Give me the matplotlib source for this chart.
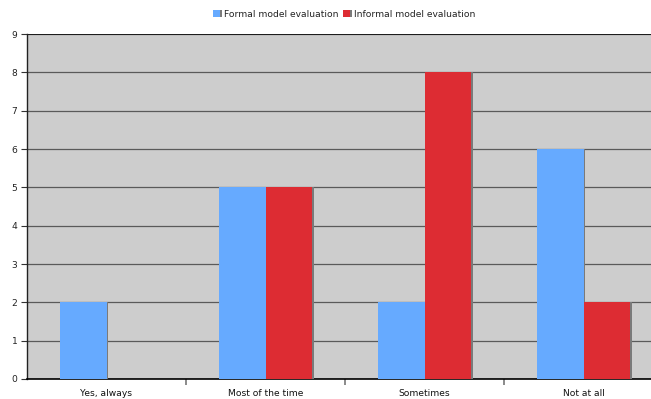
import matplotlib.pyplot as plt
import matplotlib.patheffects as pe
import numpy as np

categories = ['Yes, always', 'Most of the time', 'Sometimes', 'Not at all']
formal = [2, 5, 2, 6]
informal = [0, 5, 8, 2]
series_names = ['Formal model evaluation', 'Informal model evaluation']

plt.rcParams['font.family'] = 'DejaVu Sans'
plt.rcParams['font.size'] = 6.6

fig = plt.figure(figsize=(6.51, 3.99), dpi=100)
W, H = 651, 399
ax = fig.add_axes([27 / W, 1 - 379 / H, 636 / W, 345 / H])
ax.set_facecolor('#cdcdcd')

x = np.arange(len(categories))
bw = 0.292
shadow = [pe.SimplePatchShadow(offset=(1.4, 0), shadow_rgbFace='#7a7a7a', alpha=1), pe.Normal()]
b1 = ax.bar(x - bw / 2, formal, bw, color='#66aaff', zorder=3, label=series_names[0])
b2 = ax.bar(x + bw / 2, informal, bw, color='#dd2c33', zorder=3, label=series_names[1])
for b in list(b1) + list(b2):
    b.set_path_effects(shadow)

ax.set_xlim(-0.5, len(categories) - 0.5)
ax.set_ylim(0, 9)
ax.set_yticks(range(10))
ax.yaxis.grid(True, color='#5a5a5a', linewidth=0.9, zorder=1)
ax.set_axisbelow(True)

ax.set_xticks(x)
ax.set_xticklabels(categories, color='#111111')
ax.tick_params(axis='x', length=0, pad=7)
ax.set_xticks(np.arange(0.5, len(categories) - 0.5), minor=True)
ax.tick_params(axis='x', which='minor', length=4, width=1.2, color='#777777')
ax.tick_params(axis='y', length=4, width=0.8, pad=3, color='#333333', labelcolor='#222222')

for s in ['top', 'right']:
    ax.spines[s].set_visible(False)
ax.spines['left'].set_color('#222222')
ax.spines['bottom'].set_color('#000000')
ax.spines['left'].set_linewidth(1.0)
ax.spines['bottom'].set_linewidth(1.2)
ax.axhline(9, color='#111111', linewidth=1.2, zorder=2)

fig.legend(loc='upper center', bbox_to_anchor=(0.529, 1.0), ncol=2, frameon=False,
           handlelength=0.75, handleheight=0.75, handletextpad=0.45, columnspacing=0.5,
           borderaxespad=0.65, fontsize=6.6, labelcolor='#222222')

fig.savefig('out.png', dpi=100)
